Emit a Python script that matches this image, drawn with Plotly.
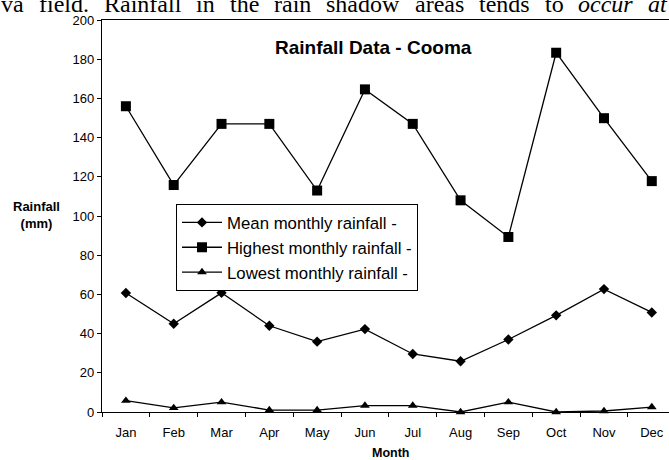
import plotly.graph_objects as go

months = ["Jan", "Feb", "Mar", "Apr", "May", "Jun", "Jul", "Aug", "Sep", "Oct", "Nov", "Dec"]
mean_rain = [60.7, 45.0, 60.8, 44.0, 35.9, 42.3, 29.6, 25.9, 37.0, 49.3, 62.7, 50.8]
highest_rain = [156.0, 115.8, 147.0, 147.0, 113.0, 164.6, 147.0, 108.0, 89.3, 183.3, 149.9, 117.8]
lowest_rain = [5.8, 2.1, 5.0, 1.0, 1.0, 3.3, 3.3, 0.0, 5.0, 0.0, 0.5, 2.5]
y_ticks = [0, 20, 40, 60, 80, 100, 120, 140, 160, 180, 200]

# Clipped line of body text above the chart (justified in the source page)
header_words = ["va", "field.", "Rainfall", "in", "the", "rain", "shadow", "areas",
                "tends", "to", "<i>occur</i>", "<i>at</i>"]
header_x_px = [0, 37.6, 103, 195, 228.7, 273, 325.3, 413.6, 478, 543.6, 577.3, 647]

SANS = "Liberation Sans, Arial, sans-serif"
SERIF = "Liberation Serif, Times New Roman, serif"

L, T, W, H = 102, 20, 567, 392  # plot area in pixels


def px_x(x):
    return (x - L) / W


def px_y(y):
    return (T + H - y) / H


fig = go.Figure()
series = [
    ("Mean monthly rainfall -", mean_rain, "diamond", 8),
    ("Highest monthly rainfall -", highest_rain, "square", 10),
    ("Lowest monthly rainfall -", lowest_rain, "triangle-up", 8.5),
]
for name, vals, sym, sz in series:
    fig.add_trace(go.Scatter(
        x=months, y=vals, name=name, mode="lines+markers",
        line=dict(color="black", width=1.3),
        marker=dict(symbol=sym, size=sz, color="black", line=dict(width=0)),
        cliponaxis=False,
    ))

fig.update_layout(
    width=669, height=460,
    margin=dict(l=L, r=669 - L - W, t=T, b=460 - T - H),
    paper_bgcolor="white", plot_bgcolor="white",
    font=dict(family=SANS, color="black", size=13),
    showlegend=True,
    legend=dict(
        x=px_x(176), y=px_y(204), xanchor="left", yanchor="top",
        bgcolor="white", bordercolor="black", borderwidth=1,
        font=dict(family=SANS, size=16.8, color="black"),
        tracegroupgap=0, itemwidth=40,
    ),
    xaxis=dict(
        type="category", categoryorder="array", categoryarray=months,
        range=[-0.5, 11.36],
        showline=True, linecolor="black", linewidth=1.3, mirror=True,
        ticks="outside", ticklen=4, tickcolor="black", tickwidth=1,
        tickson="boundaries", showgrid=False, zeroline=False,
        tickfont=dict(family=SANS, size=13, color="black"),
        ticklabelstandoff=8,
    ),
    yaxis=dict(
        range=[0, 200], tickvals=y_ticks, ticktext=[str(v) for v in y_ticks],
        showline=True, linecolor="black", linewidth=1.3, mirror=False,
        ticks="outside", ticklen=4, tickcolor="black", tickwidth=1,
        showgrid=False, zeroline=False,
        tickfont=dict(family=SANS, size=13, color="black"),
    ),
)

fig.add_annotation(
    text="<b>Rainfall Data - Cooma</b>", xref="paper", yref="paper",
    x=px_x(373), y=px_y(48), xanchor="center", yanchor="middle", showarrow=False,
    font=dict(family=SANS, size=19, color="black"),
)
fig.add_annotation(
    text="<b>Rainfall<br>(mm)</b>", xref="paper", yref="paper",
    x=px_x(36.5), y=px_y(215), xanchor="center", yanchor="middle", showarrow=False,
    font=dict(family=SANS, size=13, color="black"),
)
fig.add_annotation(
    text="<b>Month</b>", xref="paper", yref="paper",
    x=px_x(390), y=px_y(453), xanchor="center", yanchor="middle", showarrow=False,
    font=dict(family=SANS, size=12.5, color="black"),
)
for word, xp in zip(header_words, header_x_px):
    fig.add_annotation(
        text=word, xref="paper", yref="paper",
        x=px_x(xp), y=px_y(18.5), xanchor="left", yanchor="bottom", showarrow=False,
        font=dict(family=SERIF, size=24, color="black"),
        borderpad=0,
    )

fig.write_html("out.html", post_script="document.body.style.margin='0';",
               config={"displayModeBar": False})
